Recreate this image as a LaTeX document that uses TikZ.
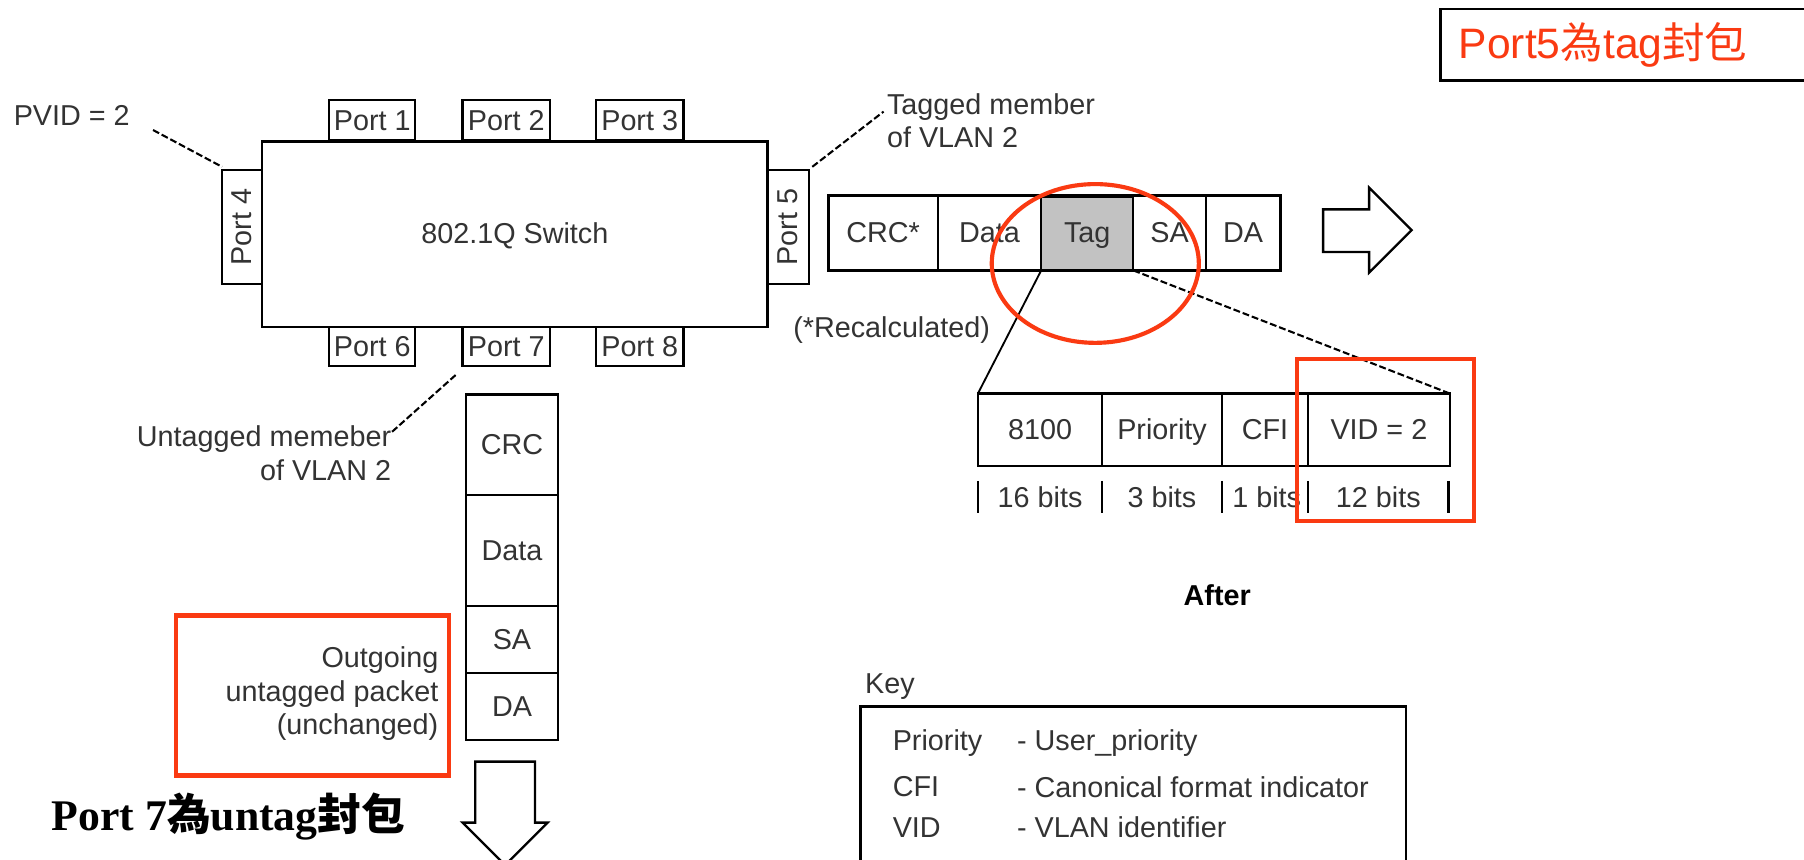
\documentclass[tikz,border=0pt]{standalone}
\usepackage{fontspec}
\setmainfont{Liberation Sans}
\newfontfamily\cjk{Noto Sans CJK TC}
\newfontfamily\serifb{Liberation Serif}
\definecolor{redmark}{RGB}{250,58,18}
\definecolor{txt}{gray}{0.2}
\definecolor{taggray}{gray}{0.76}
\begin{document}
\begin{tikzpicture}[x=1pt,y=-1pt,
  every node/.style={inner sep=0pt, outer sep=0pt, text=txt, font=\fontsize{25}{29}\selectfont},
  cellr/.style={draw=black, line width=2pt},
  cell/.style={cellr, text height=18pt, text depth=1pt},
  leader/.style={draw=black, line width=1.6pt},
  leaderd/.style={draw=black, line width=1.8pt, dash pattern=on 6pt off 2.5pt},
  redbox/.style={draw=redmark, line width=3.6pt},
  hollow/.style={draw=black, line width=2pt, fill=white}]
\useasboundingbox[fill=white] (0,0) rectangle (1568,747);

% switch and ports
\node[cell, minimum width=439, minimum height=161] (sw) at (447.5,203.5) {802.1Q Switch};
\node[cell, minimum width=75, minimum height=35] (p1) at (323.5,104.5) {Port 1};
\node[cell, minimum width=76, minimum height=35] (p2) at (440,104.5) {Port 2};
\node[cell, minimum width=76, minimum height=35] (p3) at (556,104.5) {Port 3};
\node[cell, minimum width=75, minimum height=34] (p6) at (323.5,301) {Port 6};
\node[cell, minimum width=76, minimum height=34] (p7) at (440,301) {Port 7};
\node[cell, minimum width=76, minimum height=34] (p8) at (556,301) {Port 8};
\node[cellr, minimum width=35, minimum height=99] (p4) at (210.5,197.5) {\rotatebox{90}{Port 4}};
\node[cellr, minimum width=36, minimum height=99] (p5) at (685,197.5) {\rotatebox{90}{Port 5}};

% labels around switch
\node[anchor=west] (pvid) at (12,100) {PVID = 2};
\coordinate (pvidend) at (133,113);
\coordinate (p4lead) at (193,145);
\draw[leaderd] (pvidend) -- (p4lead);

\node[anchor=west, align=left] (tagged) at (771,105) {Tagged member\\of VLAN 2};
\coordinate (p5lead) at (706,145);
\coordinate (taggedlead) at (768,97);
\draw[leaderd] (p5lead) -- (taggedlead);

\node[anchor=east, align=right] (untagged) at (340,394) {Untagged memeber\\of VLAN 2};
\coordinate (p7lead) at (396,326);
\coordinate (untaggedlead) at (340,376);
\draw[leaderd] (p7lead) -- (untaggedlead);

% tagged frame
\node[cell, minimum width=95, minimum height=65] (crcs) at (767.5,202.5) {CRC*};
\node[cell, minimum width=90, minimum height=65] (data1) at (860,202.5) {Data};
\node[cell, fill=taggray, minimum width=80, minimum height=65] (tag) at (945,202.5) {Tag};
\node[cell, minimum width=63, minimum height=65] (sa1) at (1016.5,202.5) {SA};
\node[cell, minimum width=65, minimum height=65] (da1) at (1080.5,202.5) {DA};
\draw[line width=3.5pt] (tag.north west) -- (tag.north east);
\draw[hollow] (1150,182) -- (1190,182) -- (1190,163) -- (1227,200) -- (1190,237) -- (1190,219) -- (1150,219) -- cycle;

\node (recalc) at (775,287) {(*Recalculated)};

% tag detail
\node[cell, minimum width=108, minimum height=63] (f8100) at (904,373.5) {8100};
\node[cell, minimum width=104, minimum height=63] (fprio) at (1010,373.5) {Priority};
\node[cell, minimum width=75, minimum height=63] (fcfi) at (1099.5,373.5) {CFI};
\node[cell, minimum width=123, minimum height=63] (fvid) at (1198.5,373.5) {VID = 2};
\draw[leader] (tag.south west) -- (f8100.north west);
\draw[leaderd] (tag.south east) -- (fvid.north east);

\foreach \x in {850,958,1062,1137,1259}
  \draw[line width=2pt] (\x,418) -- (\x,446);
\node (b16) at (904,432) {16 bits};
\node (b3) at (1010,432) {3 bits};
\node (b1) at (1101,432) {1 bits};
\node (b12) at (1198,432) {12 bits};

\node[font=\bfseries\fontsize{25}{29}\selectfont, text=black] (after) at (1058,517) {After};

% key
\node[anchor=west] (key) at (752,597) {Key};
\draw[cellr] (748,750) -- (748,614) -- (1222,614) -- (1222,750);
\node[anchor=west] (k1) at (776,646) {Priority};
\node[anchor=west] (k2) at (776,684) {CFI};
\node[anchor=west] (k3) at (776,719) {VID};
\node[anchor=west] (d1) at (884,646) {- User\_priority};
\node[anchor=west] (d2) at (884,684) {- Canonical format indicator};
\node[anchor=west] (d3) at (884,719) {- VLAN identifier};

% untagged frame
\node[cell, minimum width=80, minimum height=87] (crc2) at (445,386.5) {CRC};
\node[cell, minimum width=80, minimum height=97] (data2) at (445,478.5) {Data};
\node[cell, minimum width=80, minimum height=58] (sa2) at (445,556) {SA};
\node[cell, minimum width=80, minimum height=58] (da2) at (445,614) {DA};
\begin{scope}
\clip (0,0) rectangle (1568,747);
\draw[hollow] (413,662) -- (465,662) -- (465,715) -- (476,715) -- (439,752) -- (402,715) -- (413,715) -- cycle;
\end{scope}

\node[anchor=east, align=right] (outgoing) at (381,603) {Outgoing\\untagged packet\\(unchanged)};

% red highlights
\draw[redbox] (952,229) ellipse [x radius=90, y radius=69];
\draw[redbox] (1127,312) rectangle (1281,453);
\draw[redbox] (153,535) rectangle (390,674);

% annotations
\node[draw=black, line width=2pt, anchor=north west, minimum height=62, text=redmark,
  font=\fontsize{37}{40}\selectfont, text width=320, inner xsep=16pt, align=left] (note5) at (1252,8)
  {Port5{\cjk 為}tag{\cjk 封包}};
\node[anchor=west, text=black, font=\serifb\bfseries\fontsize{38}{42}\selectfont] (note7) at (45,710)
  {Port 7{\cjk\bfseries 為}untag{\cjk\bfseries 封包}};
\end{tikzpicture}
\end{document}
